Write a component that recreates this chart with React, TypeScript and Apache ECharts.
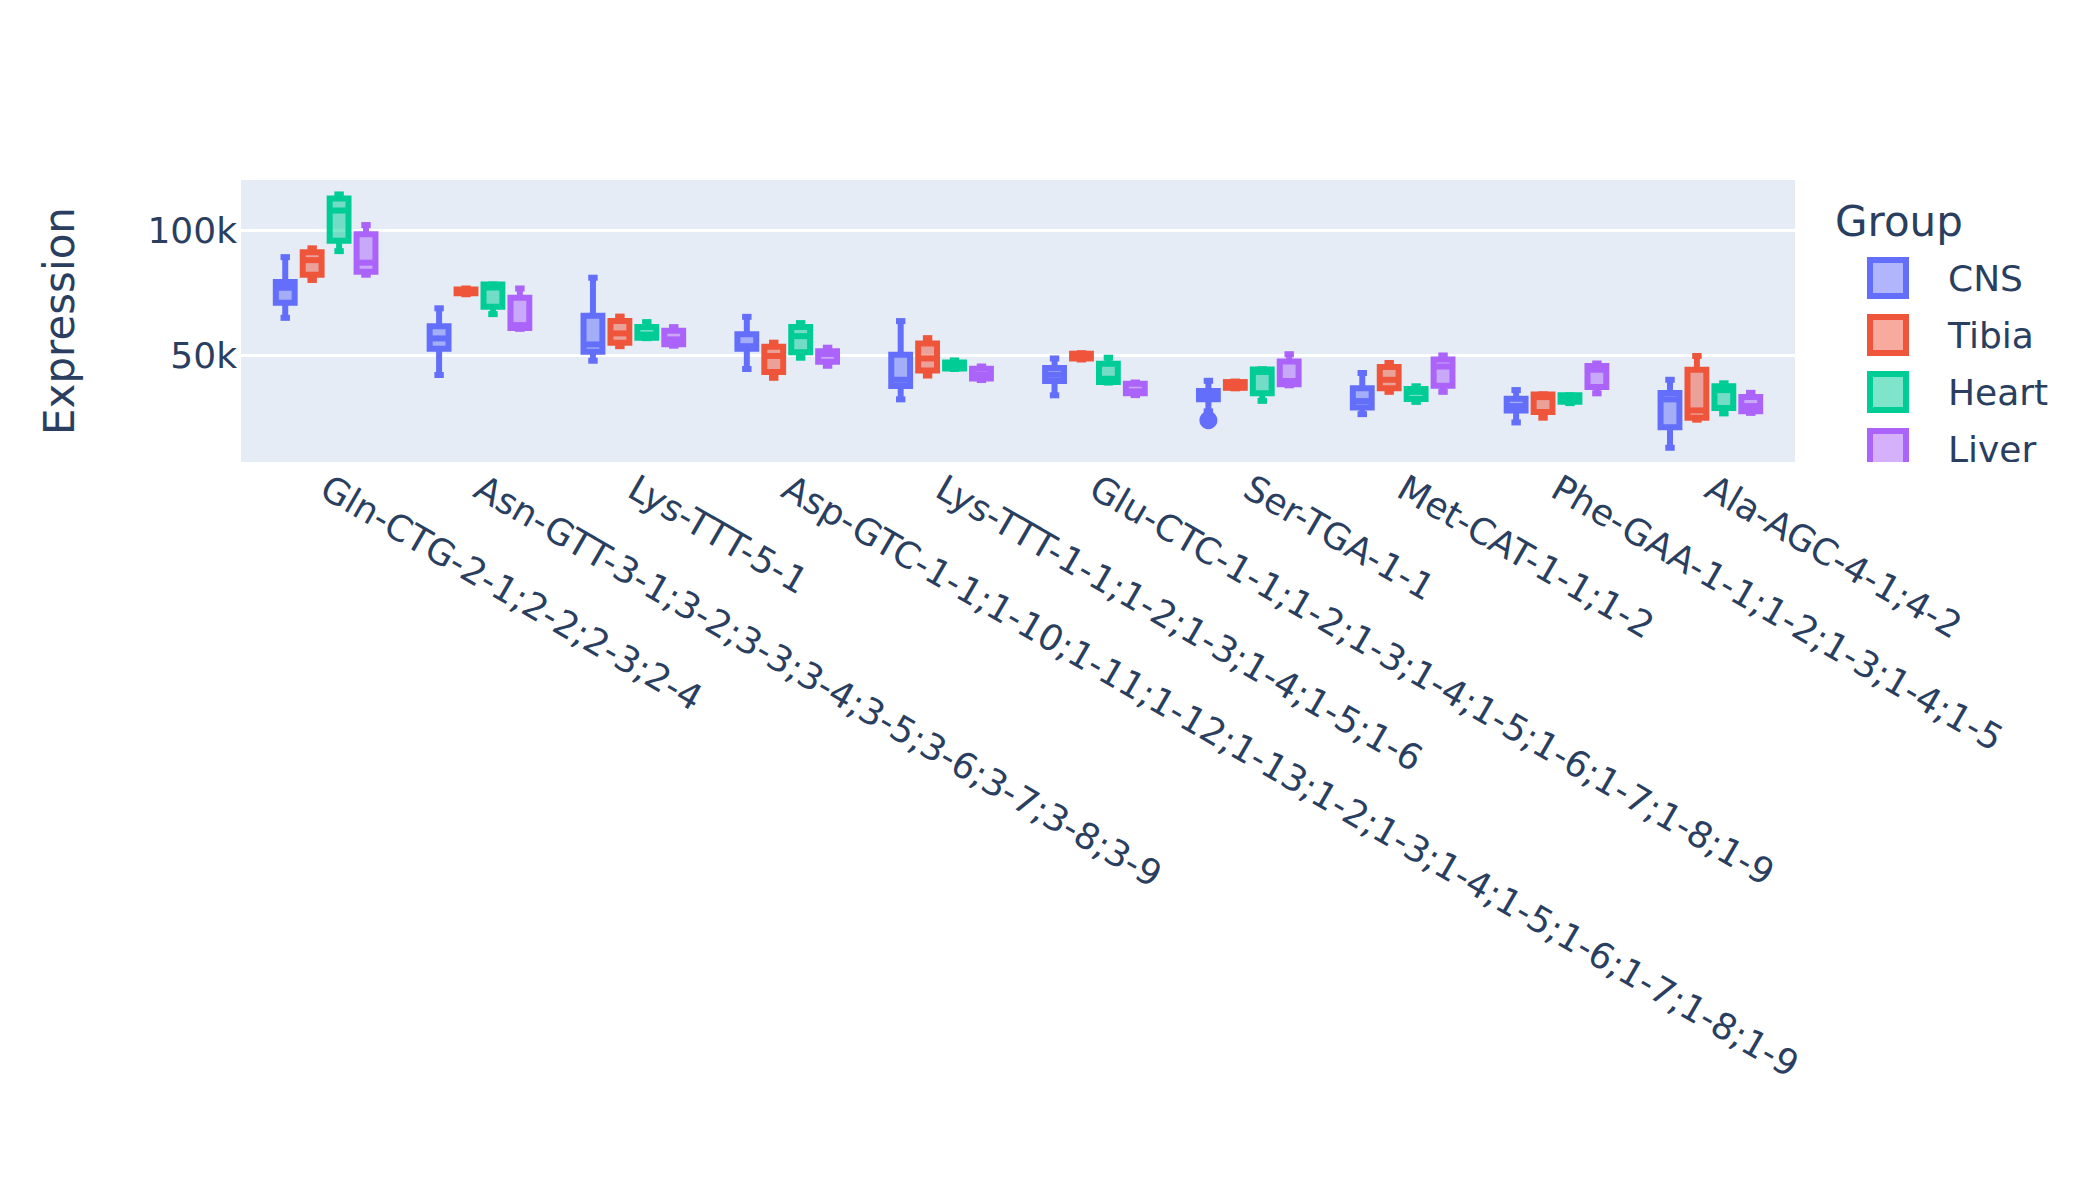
import React, { useEffect, useRef } from "react";
import * as echarts from "echarts";

const categories = [
  "Gln-CTG-2-1;2-2;2-3;2-4",
  "Asn-GTT-3-1;3-2;3-3;3-4;3-5;3-6;3-7;3-8;3-9",
  "Lys-TTT-5-1",
  "Asp-GTC-1-1;1-10;1-11;1-12;1-13;1-2;1-3;1-4;1-5;1-6;1-7;1-8;1-9",
  "Lys-TTT-1-1;1-2;1-3;1-4;1-5;1-6",
  "Glu-CTC-1-1;1-2;1-3;1-4;1-5;1-6;1-7;1-8;1-9",
  "Ser-TGA-1-1",
  "Met-CAT-1-1;1-2",
  "Phe-GAA-1-1;1-2;1-3;1-4;1-5",
  "Ala-AGC-4-1;4-2",
];

const groups = ["CNS", "Tibia", "Heart", "Liver"];
const lineColors = ["#636efa", "#EF553B", "#00cc96", "#ab63fa"];
const fillColors = [
  "rgba(99,110,250,0.5)",
  "rgba(239,85,59,0.5)",
  "rgba(0,204,150,0.5)",
  "rgba(171,99,250,0.5)",
];

// [min, q1, median, q3, max] per category
const cnsStats = [
  [65100, 71100, 77100, 79400, 89300],
  [42300, 52800, 56900, 61700, 68900],
  [48000, 51600, 54500, 65900, 81100],
  [44700, 52800, 53800, 58600, 65500],
  [32600, 37900, 40400, 50400, 63800],
  [34200, 39900, 42400, 45100, 48900],
  [27800, 32600, 34300, 35900, 40000],
  [26700, 29400, 31900, 37000, 43100],
  [23400, 28200, 29900, 32800, 36300],
  [13300, 21500, 32600, 35100, 40400],
];
const tibiaStats = [
  [80200, 82300, 88100, 91300, 92800],
  [74500, 74900, 75600, 76400, 76800],
  [53800, 55200, 58900, 63800, 65600],
  [41200, 43500, 49900, 53600, 55200],
  [42100, 44100, 48900, 54900, 57000],
  [48500, 48900, 49900, 50800, 51000],
  [37000, 37200, 38400, 39500, 39700],
  [35600, 37000, 40400, 45500, 47100],
  [25300, 27600, 33500, 34500, 34600],
  [24500, 25300, 28200, 44400, 49900],
];
const heartStats = [
  [91700, 95800, 107900, 112700, 114300],
  [66600, 69500, 77200, 78400, 78400],
  [57000, 57200, 58400, 61400, 63400],
  [49200, 51400, 57800, 61400, 63000],
  [44700, 44900, 46100, 47300, 48100],
  [39300, 39500, 40800, 46800, 49200],
  [32000, 35000, 43500, 44500, 44600],
  [31600, 32700, 35600, 36700, 37800],
  [31100, 31600, 33000, 34200, 34200],
  [27000, 29200, 36300, 37800, 39000],
];
const liverStats = [
  [82300, 83500, 87100, 98400, 102100],
  [60700, 61000, 62200, 73100, 76800],
  [54000, 54600, 56500, 60000, 61400],
  [46000, 47600, 50700, 51800, 53200],
  [40300, 40900, 42300, 44800, 45700],
  [34300, 35000, 35800, 38800, 39300],
  [38200, 38600, 39900, 47700, 50600],
  [35600, 38000, 45700, 48500, 50100],
  [35000, 37500, 44400, 45900, 46900],
  [27200, 27900, 29900, 33500, 35200],
];
// [category index, value]
const cnsOutliers = [[6, 24300]];

const yTickValues = [50000, 100000];
const yMin = 7620;
const yMax = 120060;

const allStats = [cnsStats, tibiaStats, heartStats, liverStats];

const SLOT = 0.175; // category units per box slot
const HALF_BOX = 0.06125; // half box width in category units
const HALF_CAP = 0.030625; // half whisker cap width
const LW = 6;
const FONT = "DejaVu Sans";
const TEXT_COLOR = "#2a3f5f";

function makeRenderItem(gi: number) {
  const color = lineColors[gi];
  const fill = fillColors[gi];
  return (params: any, api: any) => {
    const xc = api.value(0) + (gi - 1.5) * SLOT;
    const lo = api.value(1);
    const q1 = api.value(2);
    const med = api.value(3);
    const q3 = api.value(4);
    const hi = api.value(5);
    const px = (dx: number) => api.coord([xc + dx, med])[0];
    const py = (v: number) => api.coord([xc, v])[1];
    const left = px(-HALF_BOX);
    const right = px(HALF_BOX);
    const cx = px(0);
    const capL = px(-HALF_CAP);
    const capR = px(HALF_CAP);
    const yq1 = py(q1);
    const yq3 = py(q3);
    const ymed = py(med);
    const ylo = py(lo);
    const yhi = py(hi);
    const stroke = { stroke: color, lineWidth: LW, fill: "none" };
    const line = (x1: number, y1: number, x2: number, y2: number) => ({
      type: "line",
      shape: { x1, y1, x2, y2 },
      style: stroke,
    });
    return {
      type: "group",
      children: [
        {
          type: "rect",
          shape: { x: left, y: yq3, width: right - left, height: yq1 - yq3 },
          style: { fill, stroke: color, lineWidth: LW },
        },
        line(left, ymed, right, ymed),
        line(cx, yq3, cx, yhi),
        line(cx, yq1, cx, ylo),
        line(capL, yhi, capR, yhi),
        line(capL, ylo, capR, ylo),
      ],
    };
  };
}

export default function App() {
  const ref = useRef<HTMLDivElement>(null);

  useEffect(() => {
    if (!ref.current) return;
    const chart = echarts.init(ref.current, null, { renderer: "svg" });

    const boxSeries = groups.map((g, gi) => ({
      name: g,
      type: "custom",
      renderItem: makeRenderItem(gi),
      encode: { x: 0, y: [1, 2, 3, 4, 5] },
      data: allStats[gi].map((s, ci) => [ci, ...s]),
      z: 3,
    }));

    const outlierSeries = {
      name: "CNS",
      type: "scatter",
      symbol: "circle",
      symbolSize: 18,
      itemStyle: { color: lineColors[0], opacity: 1 },
      data: cnsOutliers.map(([c, v]) => [c + (0 - 1.5) * SLOT, v]),
      z: 4,
    };

    const option: any = {
      animation: false,
      backgroundColor: "#ffffff",
      textStyle: { fontFamily: FONT },
      grid: {
        left: 241,
        top: 180,
        width: 1554,
        height: 282,
        show: true,
        backgroundColor: "#E5ECF6",
        borderWidth: 0,
        containLabel: false,
        outerBoundsMode: "none",
      },
      xAxis: {
        type: "value",
        min: -0.55,
        max: 9.55,
        axisLine: { show: false },
        axisTick: { show: false },
        splitLine: { show: false },
        axisLabel: {
          customValues: categories.map((_, i) => i + 0.048),
          formatter: (v: number) => categories[Math.round(v)],
          rotate: -30,
          align: "left",
          verticalAlign: "top",
          margin: 7,
          fontSize: 36,
          color: TEXT_COLOR,
          fontFamily: FONT,
        },
      },
      yAxis: {
        type: "value",
        min: yMin,
        max: yMax,
        name: "Expression",
        nameLocation: "middle",
        nameGap: 161,
        nameTextStyle: { fontSize: 42, color: TEXT_COLOR, fontFamily: FONT },
        axisLine: { show: false },
        axisTick: { show: false, customValues: yTickValues },
        splitLine: { show: true, lineStyle: { color: "#ffffff", width: 3 } },
        axisLabel: {
          customValues: yTickValues,
          formatter: (v: number) => v / 1000 + "k",
          fontSize: 36,
          color: TEXT_COLOR,
          fontFamily: FONT,
          margin: 4,
        },
      },
      legend: {
        orient: "vertical",
        left: 1867,
        top: 257,
        padding: 0,
        itemWidth: 36,
        itemHeight: 36,
        itemGap: 15,
        selectedMode: false,
        textStyle: {
          fontSize: 36,
          color: TEXT_COLOR,
          fontFamily: FONT,
          lineHeight: 36,
          padding: [0, 0, 0, 37],
        },
        data: groups.map((g, gi) => ({
          name: g,
          icon: "rect",
          itemStyle: {
            color: fillColors[gi],
            borderColor: lineColors[gi],
            borderWidth: 6,
          },
        })),
      },
      graphic: [
        {
          type: "text",
          left: 1835,
          top: 200,
          z: 10,
          style: {
            text: "Group",
            fontSize: 42,
            fontFamily: FONT,
            fill: TEXT_COLOR,
          },
        },
        {
          type: "rect",
          left: 1805,
          top: 462,
          z: 100,
          shape: { width: 295, height: 40 },
          style: { fill: "#ffffff" },
        },
      ],
      series: [...boxSeries, outlierSeries],
    };

    chart.setOption(option);
    return () => {
      chart.dispose();
    };
  }, []);

  return (
    <div
      ref={ref}
      style={{ position: "absolute", left: 0, top: 0, width: 2100, height: 1200 }}
    />
  );
}
